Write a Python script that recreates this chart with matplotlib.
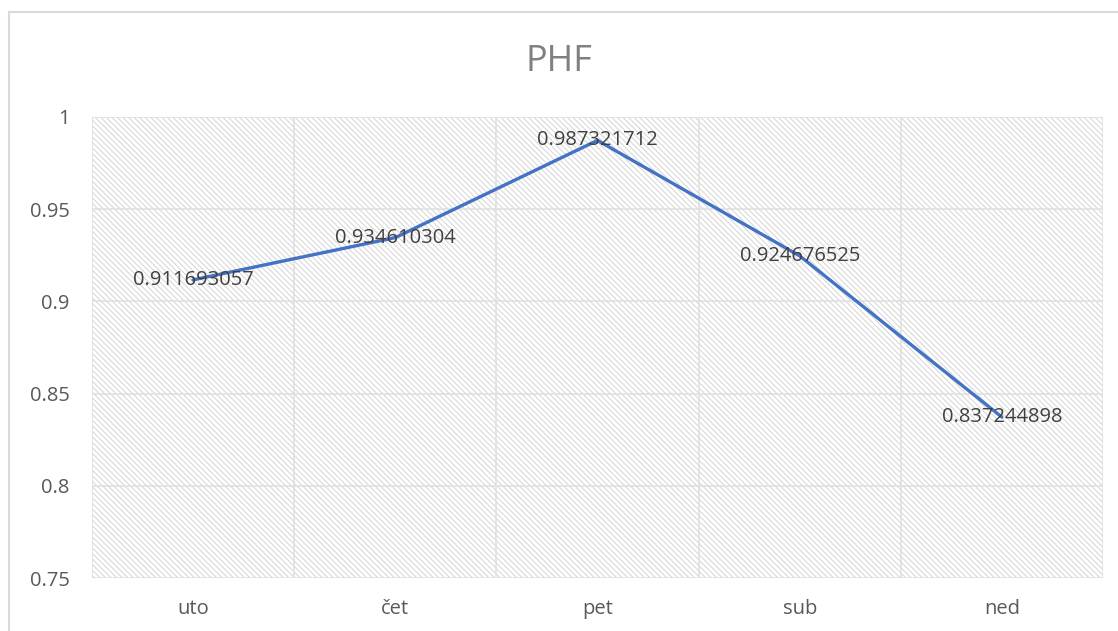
import matplotlib.pyplot as plt
from matplotlib.patches import Rectangle

# data
days = ["uto", "čet", "pet", "sub", "ned"]
phf = [0.911693057, 0.934610304, 0.987321712, 0.924676525, 0.837244898]
y_ticks = [0.75, 0.8, 0.85, 0.9, 0.95, 1]
y_tick_labels = ["0.75", "0.8", "0.85", "0.9", "0.95", "1"]

plt.rcParams["font.family"] = ["Open Sans", "DejaVu Sans"]
plt.rcParams["hatch.color"] = "#d4d4d4"
plt.rcParams["hatch.linewidth"] = 0.7

fig = plt.figure(figsize=(11.18, 6.31), dpi=100)

# outer chart border
fig.patches.append(Rectangle((9 / 1118, -0.1), 1.2, 1 - 12 / 631 + 0.1,
                             transform=fig.transFigure, fill=False,
                             edgecolor="#d9d9d9", linewidth=1.5))

ax = fig.add_axes([92 / 1118, 1 - 578 / 631, (1103 - 92) / 1118, (578 - 117) / 631])

# hatched plot background
ax.add_patch(Rectangle((0, 0), 1, 1, transform=ax.transAxes, facecolor="white",
                       hatch="\\\\\\\\\\\\", edgecolor="#d4d4d4", linewidth=0, zorder=0))

x = range(len(days))
ax.set_xlim(-0.5, len(days) - 0.5)
ax.set_ylim(0.75, 1)

# grid
for yv in y_ticks:
    ax.axhline(yv, color="#e0e0e0", linewidth=1.2, zorder=1)
for xv in range(len(days) + 1):
    ax.axvline(xv - 0.5, color="#e0e0e0", linewidth=1.2, zorder=1)

ax.plot(x, phf, color="#4472c4", linewidth=2.4, solid_capstyle="round", zorder=3)

for xi, v in zip(x, phf):
    ax.text(xi, v, f"{v:.9f}", ha="center", va="center", fontsize=14.5,
            color="#404040", zorder=4)

ax.set_xticks(list(x))
ax.set_xticklabels(days)
ax.set_yticks(y_ticks)
ax.set_yticklabels(y_tick_labels)
ax.tick_params(length=0, labelsize=14.5, labelcolor="#595959")
ax.tick_params(axis="x", pad=15)
ax.tick_params(axis="y", pad=16)

for s in ax.spines.values():
    s.set_visible(False)

fig.text(0.5, 1 - 62 / 631, "PHF", ha="center", va="center", fontsize=26,
         color="#808080")

plt.savefig("out.png", dpi=100)
